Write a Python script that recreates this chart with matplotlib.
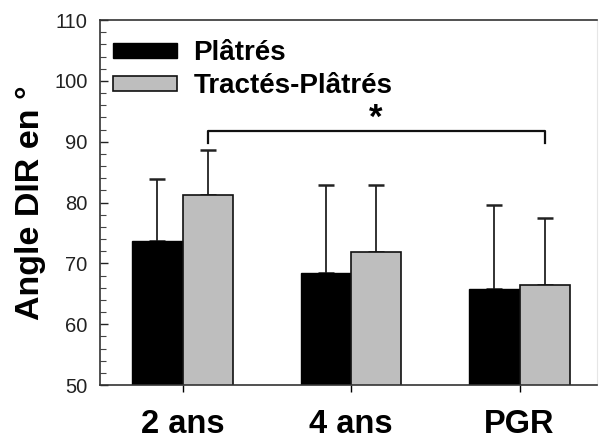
import matplotlib
matplotlib.use("Agg")
import matplotlib.pyplot as plt
import numpy as np
from matplotlib.ticker import MultipleLocator

categories = ["2 ans", "4 ans", "PGR"]
platres_mean = [73.7, 68.4, 65.8]
platres_sd = [10.1, 14.4, 13.8]
tractes_mean = [81.3, 71.9, 66.5]
tractes_sd = [7.4, 10.9, 11.0]
series_labels = ["Plâtrés", "Tractés-Plâtrés"]
yticks = [50, 60, 70, 80, 90, 100, 110]
bracket_y = 91.8
bracket_drop = 2.0
star_y = 91.2

plt.rcParams['font.family'] = ['Liberation Sans', 'DejaVu Sans']

fig = plt.figure(figsize=(5.99, 4.45), dpi=100)
ax = fig.add_axes([100/599, 60/445, 497/599, 365/445])

x = np.arange(len(categories))
w = 0.298
ax.bar(x - w/2, platres_mean, w, color='black', edgecolor='black', linewidth=1.0,
       label=series_labels[0], zorder=2)
ax.bar(x + w/2, tractes_mean, w, color='#bebebe', edgecolor='#111111', linewidth=1.2,
       label=series_labels[1], zorder=2)
ax.errorbar(x - w/2, platres_mean, yerr=[np.zeros(3), platres_sd], fmt='none',
            ecolor='#222222', elinewidth=1.3, capsize=6, capthick=1.8, zorder=1)
ax.errorbar(x + w/2, tractes_mean, yerr=[np.zeros(3), tractes_sd], fmt='none',
            ecolor='#222222', elinewidth=1.3, capsize=6, capthick=1.8, zorder=1)

# significance bracket between 2 ans (Tractés) and PGR (Tractés)
xl, xr = x[0] + w/2, x[2] + w/2
ax.plot([xl, xl, xr, xr], [bracket_y - bracket_drop, bracket_y, bracket_y, bracket_y - bracket_drop],
        color='#111111', linewidth=1.6, zorder=3)
ax.text((xl + xr)/2, star_y, "*", ha='center', va='bottom', fontsize=25, fontweight='bold')

ax.set_xlim(-0.49, 2.46)
ax.set_ylim(50, 110)
ax.set_yticks(yticks)
ax.yaxis.set_minor_locator(MultipleLocator(2))
ax.set_xticks(x)
ax.set_xticklabels(categories, fontsize=23.5, fontweight='bold')
ax.tick_params(axis='y', which='major', direction='in', length=6, width=1.0, labelsize=14.5, pad=9,
               colors='#222222', labelcolor='#222222')
ax.tick_params(axis='y', which='minor', direction='in', length=4, width=0.8, colors='#444444')
ax.tick_params(axis='x', direction='out', length=5, width=1.0, pad=12)
ax.set_ylabel("Angle DIR en °", fontsize=24.5, fontweight='bold', labelpad=6)

for s in ['left', 'bottom', 'top']:
    ax.spines[s].set_linewidth(1.2)
    ax.spines[s].set_color('#333333')
ax.spines['right'].set_color('#e6e6e6')
ax.spines['right'].set_linewidth(0.8)

ax.legend(loc='upper left', bbox_to_anchor=(13/497, 1 - 20/365), frameon=False,
          prop={'weight': 'bold', 'size': 20}, handlelength=2.3, handleheight=0.45,
          handletextpad=0.6, labelspacing=0.25, borderpad=0, borderaxespad=0)

fig.savefig("out.png", dpi=100)
